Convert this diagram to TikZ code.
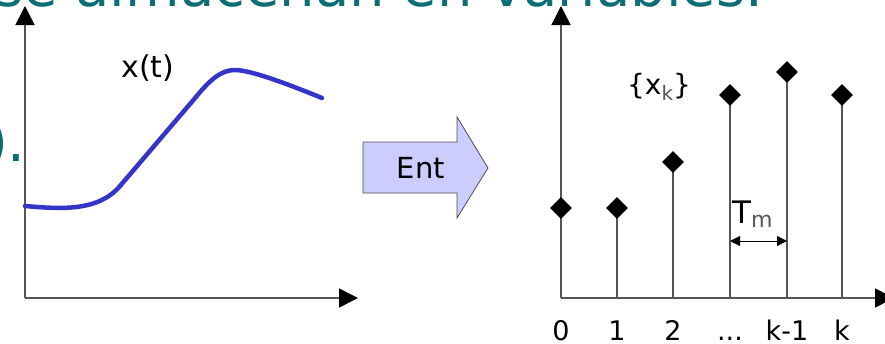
\documentclass[tikz,border=0pt]{standalone}
\usepackage{fontspec}
\setmainfont{DejaVu Sans}
\usepackage{tikz}
\usepackage{xcolor}
\usetikzlibrary{arrows.meta,shapes.geometric,calc}
\definecolor{SlideTeal}{HTML}{0B6E75}
\definecolor{CurveBlue}{HTML}{3434C8}
\definecolor{ArrowLilac}{HTML}{CCCCFF}
\definecolor{AxisGray}{HTML}{555555}
\definecolor{SubGray}{HTML}{555555}
\newcommand{\smpdots}{...}
\tikzset{
    % Axis with filled tip
    axisline/.style={
        -{Triangle[length=19pt,width=19pt,color=black]},
        line width=1.6pt,
        draw=AxisGray
    },
    % Sample stem
    stemline/.style={
        line width=1.2pt,
        draw=AxisGray
    },
    % Sample marker
    sample/.style={
        diamond,
        fill=black,
        inner sep=0pt,
        minimum size=22pt
    },
    % Tick text under the axis
    ticklabel/.style={
        anchor=base,
        font=\fontsize{27}{30}\selectfont
    },
    % Plain text
    plaintext/.style={
        inner sep=0pt,
        font=\fontsize{30}{34}\selectfont
    },
    % Period arrow
    dimarrow/.style={
        {Triangle[length=10pt,width=10pt]}-{Triangle[length=10pt,width=10pt]},
        line width=1pt
    },
    % Slide text behind the picture
    slidetext/.style={
        inner sep=0pt,
        text=SlideTeal,
        font=\fontsize{56}{60}\selectfont
    }
}
\begin{document}
\begin{tikzpicture}[x=1pt,y=-1pt]
        \useasboundingbox (0,0) rectangle (885,343);
        \clip (0,0) rectangle (885,343);

        % Slide text
        \node[slidetext, anchor=base west] (title) at (-6,6) {se almacenan en variables.};
        \node[slidetext, anchor=base east] (tail) at (26,161) {).};

        % Continuous signal
        \coordinate (lorig) at (25,298);
        \coordinate (ltop) at (25,6);
        \coordinate (lright) at (358,298);
        \draw[axisline] (lorig) -- (ltop);
        \draw[axisline] (lorig) -- (lright);
        \draw[CurveBlue, line width=4.5pt, line cap=round, line join=round]
            (25,206) .. controls (60,209) and (98,212) .. (120,186)
            -- (190,104)
            .. controls (203,89) and (216,70) .. (235,70)
            .. controls (252,70) and (295,87) .. (322,98);
        \node[plaintext] (xt) at (148,68) {x(t)};

        % Converter
        \draw[draw=black!70, fill=ArrowLilac, line width=0.8pt]
            (363,142) -- (457,142) -- (457,117) -- (488,168) -- (457,218) -- (457,193) -- (363,193) -- cycle;
        \node[plaintext, font=\fontsize{29}{32}\selectfont] (ent) at (421,168) {Ent};

        % Sampled signal
        \coordinate (rorig) at (561,298);
        \coordinate (rtop) at (561,6);
        \coordinate (rright) at (894,298);
        \draw[axisline] (rorig) -- (rtop);
        \draw[axisline] (rorig) -- (rright);
        \foreach \n/\xx/\yy/\tick in {0/561/208/0, 1/617/208/1, 2/673/162/2, 3/730/95/\smpdots, 4/787/72/k-1, 5/842/95/k} {
            \coordinate (b\n) at (\xx,298);
            \draw[stemline] (b\n) -- (\xx,\yy);
            \node[sample] (d\n) at (\xx,\yy) {};
            \node[ticklabel] (t\n) at (\xx,340) {\tick};
        }
        \node[plaintext, font=\fontsize{28}{32}\selectfont] (xk) at (659,87)
            {\{x\raisebox{-0.35ex}{\textcolor{SubGray}{\fontsize{20}{22}\selectfont k}}\}};

        % Sampling period
        \draw[dimarrow] ($(b3)+(0,-57)$) -- ($(b4)+(0,-57)$);
        \node[plaintext, anchor=base west, font=\fontsize{31}{34}\selectfont] (tm) at (732,223)
            {T\raisebox{-0.15em}{\textcolor{SubGray}{\fontsize{22}{24}\selectfont m}}};
    \end{tikzpicture}
\end{document}
